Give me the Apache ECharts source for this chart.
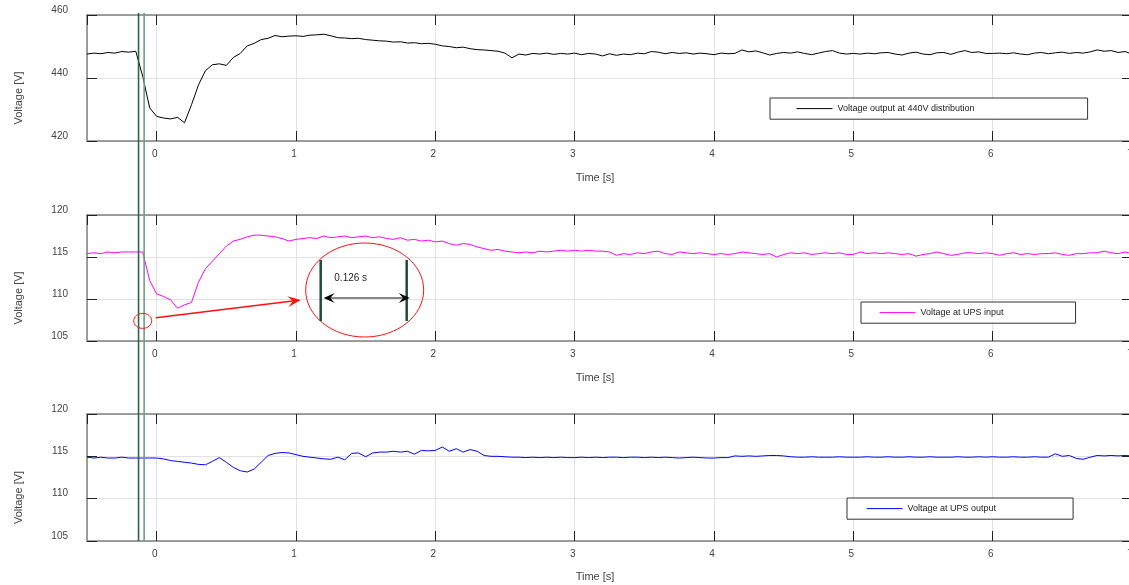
<!DOCTYPE html>
<html><head><meta charset="utf-8">
<script src="https://cdn.jsdelivr.net/npm/echarts@6/dist/echarts.min.js"></script>
<style>html,body{margin:0;padding:0;background:#fff}#c{width:1129px;height:585px}</style>
</head><body><div id="c"></div>
<script>
// ---- data ----
const time = [
 -0.5,-0.45,-0.4,-0.35,-0.3,-0.25,-0.2,-0.15,-0.1,-0.05,
 0,0.05,0.1,0.15,0.2,0.25,0.3,0.35,0.4,0.45,
 0.5,0.55,0.6,0.65,0.7,0.75,0.8,0.85,0.9,0.95,
 1,1.05,1.1,1.15,1.2,1.25,1.3,1.35,1.4,1.45,
 1.5,1.55,1.6,1.65,1.7,1.75,1.8,1.85,1.9,1.95,
 2,2.05,2.1,2.15,2.2,2.25,2.3,2.35,2.4,2.45,
 2.5,2.55,2.6,2.65,2.7,2.75,2.8,2.85,2.9,2.95,
 3,3.05,3.1,3.15,3.2,3.25,3.3,3.35,3.4,3.45,
 3.5,3.55,3.6,3.65,3.7,3.75,3.8,3.85,3.9,3.95,
 4,4.05,4.1,4.15,4.2,4.25,4.3,4.35,4.4,4.45,
 4.5,4.55,4.6,4.65,4.7,4.75,4.8,4.85,4.9,4.95,
 5,5.05,5.1,5.15,5.2,5.25,5.3,5.35,5.4,5.45,
 5.5,5.55,5.6,5.65,5.7,5.75,5.8,5.85,5.9,5.95,
 6,6.05,6.1,6.15,6.2,6.25,6.3,6.35,6.4,6.45,
 6.5,6.55,6.6,6.65,6.7,6.75,6.8,6.85,6.9,6.95,
 7
];
const v440 = [
 447.6,447.9,447.7,448.1,447.9,448.4,448.2,448.5,440.5,430.5,
 427.8,427.3,427.0,427.5,425.8,431.5,437.8,442.3,444.2,444.5,
 444.0,446.5,447.8,450.2,451.0,452.2,452.6,453.5,453.1,453.3,
 453.4,453.2,453.6,453.7,453.9,453.4,452.8,452.7,452.5,452.6,
 452.2,452.0,451.8,451.7,451.4,451.5,451.1,451.2,450.9,451.0,
 450.7,450.2,450.0,449.6,449.8,449.3,449.0,448.9,448.7,448.5,
 447.9,446.4,447.6,447.3,447.8,447.6,447.9,447.5,447.8,447.6,
 447.9,447.4,447.8,447.6,447.0,447.7,447.2,447.6,447.4,447.9,
 447.7,448.4,448.2,447.7,448.1,447.8,448.0,447.6,447.9,447.7,
 447.4,447.9,447.7,447.8,448.9,448.3,448.6,448.0,447.3,447.8,
 448.1,447.9,448.3,447.8,447.4,447.9,448.4,448.7,447.9,447.6,
 447.8,447.6,447.9,447.7,448.0,448.1,447.6,447.3,447.9,448.2,
 447.6,447.4,448.0,448.1,447.5,448.2,448.7,448.1,448.3,447.8,
 447.8,447.9,447.7,448.0,447.6,447.4,447.9,448.1,447.7,448.0,
 448.2,447.8,448.1,447.9,448.3,448.9,448.5,448.7,448.1,448.4,
 447.6
];
const upsIn = [
 115.4,115.5,115.4,115.6,115.5,115.6,115.6,115.6,115.6,112.2,
 110.6,110.3,109.9,108.9,109.3,109.6,112.0,113.6,114.5,115.4,
 116.3,116.9,117.1,117.4,117.6,117.6,117.5,117.4,117.2,116.9,
 117.1,117.2,117.3,117.2,117.5,117.3,117.4,117.5,117.3,117.4,
 117.5,117.3,117.4,117.2,117.1,117.3,117.0,117.1,116.9,117.0,
 116.8,116.9,116.6,116.4,116.6,116.5,116.2,116.0,115.8,115.9,
 115.7,115.6,115.5,115.6,115.5,115.7,115.6,115.7,115.8,115.7,
 115.8,115.7,115.8,115.7,115.7,115.6,115.2,115.4,115.3,115.5,
 115.4,115.6,115.7,115.4,115.3,115.6,115.5,115.4,115.5,115.4,
 115.3,115.4,115.3,115.4,115.6,115.5,115.4,115.3,115.4,115.0,
 115.3,115.5,115.4,115.5,115.3,115.4,115.5,115.4,115.5,115.3,
 115.3,115.6,115.4,115.5,115.4,115.5,115.4,115.3,115.4,115.1,
 115.3,115.4,115.6,115.4,115.2,115.3,115.5,115.5,115.4,115.5,
 115.4,115.2,115.4,115.5,115.3,115.4,115.3,115.4,115.4,115.5,
 115.3,115.2,115.4,115.4,115.5,115.5,115.7,115.5,115.4,115.6,
 115.4
];
const upsOut = [
 114.9,114.8,114.9,114.8,114.8,114.9,114.8,114.8,114.8,114.8,
 114.8,114.7,114.5,114.4,114.3,114.2,114.05,114.0,114.4,114.85,
 114.3,113.7,113.3,113.15,113.5,114.3,115.1,115.35,115.45,115.4,
 115.2,115.0,114.9,114.8,114.7,114.65,114.9,114.6,115.35,115.4,
 114.95,115.4,115.5,115.5,115.6,115.5,115.6,115.25,115.7,115.65,
 115.7,116.1,115.6,115.9,115.5,115.8,115.6,115.1,115.0,115.0,
 114.95,114.9,114.9,114.85,114.9,114.85,114.9,114.85,114.9,114.85,
 114.85,114.9,114.85,114.9,114.85,114.9,114.9,114.85,114.9,114.9,
 114.85,114.9,114.85,114.9,114.85,114.8,114.85,114.9,114.85,114.8,
 114.8,114.85,114.85,115.05,115.0,115.05,115.0,115.05,115.1,115.1,
 115.05,114.95,114.9,114.9,114.95,114.9,114.9,114.9,114.95,114.9,
 114.9,114.9,114.95,114.9,114.9,114.95,114.9,114.9,114.95,114.9,
 114.9,114.95,114.9,114.9,114.9,114.95,114.9,114.9,114.95,114.9,
 114.95,114.9,114.9,114.95,114.9,114.9,114.95,114.9,114.9,115.3,
 115.0,115.1,114.75,114.65,114.9,115.1,115.05,115.1,115.05,115.1,
 115.05
];
const seriesNames = ['Voltage output at 440V distribution', 'Voltage at UPS input', 'Voltage at UPS output'];
const seriesColors = ['#000000', '#ff00ff', '#0000ff'];
const yRanges = [[420, 460, 20], [105, 120, 5], [105, 120, 5]];
const xRange = [-0.5, 7];
const xName = 'Time [s]';
const yName = 'Voltage [V]';
const cursorTimes = [-0.13, -0.09];
const markSmall = [-0.1, 107.4];   // small circled region (panel 2)
const markBig = [1.493, 111.07];   // magnified view (panel 2)
const measuredText = '0.126 s';

// ---- layout ----
const gridTops = [15, 215, 414];
const gridHeights = [126, 126, 127];
const xNameGaps = [31, 31, 30];
const legendPos = [
  {left: 770, top: 98, padding: [5, 113, 5, 26]},
  {left: 861, top: 302, padding: [5, 72, 5, 18]},
  {left: 847, top: 498, padding: [5, 77, 5, 19]}
];
const FONT = 'Liberation Sans, Arial, sans-serif';
const allValues = [v440, upsIn, upsOut];

const grid = [], xAxis = [], yAxis = [], series = [], legend = [];
for (let g = 0; g < 3; g++) {
  grid.push({left: 87, width: 1045, top: gridTops[g], height: gridHeights[g], outerBoundsMode: 'none', containLabel: false});
  const common = {gridIndex: g, type: 'value', min: xRange[0], max: xRange[1], minInterval: 1, maxInterval: 1};
  xAxis.push(Object.assign({}, common, {
    position: 'bottom',
    name: xName, nameLocation: 'middle', nameGap: xNameGaps[g],
    nameTextStyle: {fontFamily: FONT, fontSize: 11, color: '#444', padding: [0, 29, 0, 0]},
    axisLine: {show: true, onZero: false, lineStyle: {color: '#808080', width: 1.5}},
    axisTick: {show: true, inside: true, length: 10, lineStyle: {color: '#222', width: 1}},
    axisLabel: {show: true, showMinLabel: false, hideOverlap: false, margin: 8, fontFamily: FONT, fontSize: 10, color: '#444', padding: [0, 4, 0, 0]},
    splitLine: {show: true, lineStyle: {color: '#e2e2e2', width: 1}}
  }));
  xAxis.push(Object.assign({}, common, {
    position: 'top',
    axisLine: {show: true, onZero: false, lineStyle: {color: '#808080', width: 1.5}},
    axisTick: {show: true, inside: true, length: 10, lineStyle: {color: '#222', width: 1}},
    axisLabel: {show: false},
    splitLine: {show: false}
  }));
  const yr = yRanges[g];
  const ycommon = {gridIndex: g, type: 'value', min: yr[0], max: yr[1], interval: yr[2]};
  yAxis.push(Object.assign({}, ycommon, {
    position: 'left',
    name: yName, nameLocation: 'middle', nameGap: 63, nameRotate: 90,
    nameTextStyle: {fontFamily: FONT, fontSize: 11, color: '#444', padding: [0, 40, 0, 0]},
    axisLine: {show: true, onZero: false, lineStyle: {color: '#808080', width: 1.5}},
    axisTick: {show: true, inside: true, length: 10, lineStyle: {color: '#222', width: 1}},
    axisLabel: {show: true, margin: 19, fontFamily: FONT, fontSize: 10, color: '#444', verticalAlign: 'bottom', lineHeight: 10},
    splitLine: {show: true, lineStyle: {color: '#e2e2e2', width: 1}}
  }));
  yAxis.push(Object.assign({}, ycommon, {
    position: 'right',
    axisLine: {show: true, onZero: false, lineStyle: {color: '#808080', width: 1.5}},
    axisTick: {show: true, inside: true, length: 10, lineStyle: {color: '#222', width: 1}},
    axisLabel: {show: false},
    splitLine: {show: false}
  }));
  series.push({
    name: seriesNames[g], type: 'line', xAxisIndex: 2 * g, yAxisIndex: 2 * g,
    data: time.map((t, k) => [t, allValues[g][k]]),
    symbol: 'none', showSymbol: false, color: seriesColors[g],
    lineStyle: {color: seriesColors[g], width: 1}, z: 3
  });
  legend.push(Object.assign({
    data: [seriesNames[g]], orient: 'horizontal', itemWidth: 36, itemHeight: 14,
    borderColor: '#333', borderWidth: 1, backgroundColor: '#fff', selectedMode: false,
    itemStyle: {opacity: 0},
    lineStyle: {width: 1},
    textStyle: {fontFamily: FONT, fontSize: 9, color: '#222'}
  }, legendPos[g]));
}

const chart = echarts.init(document.getElementById('c'), null, {renderer: 'canvas'});
chart.setOption({animation: false, grid, xAxis, yAxis, series, legend});

// ---- annotations anchored to data coordinates ----
const px = (g, t, v) => chart.convertToPixel({gridIndex: g}, [t, v]);
const graphics = [];
const cursorColors = ['#2d6446', '#6f9c84'];
cursorTimes.forEach((t, i) => {
  const top = px(0, t, yRanges[0][1]);
  const bot = px(2, t, yRanges[2][0]);
  graphics.push({type: 'line', shape: {x1: top[0], y1: top[1] - 2, x2: bot[0], y2: bot[1]},
    style: {stroke: cursorColors[i], lineWidth: 1.6}, z: 10});
});
function arrowHead(tip, from, len, half, color) {
  const dx = tip[0] - from[0], dy = tip[1] - from[1];
  const d = Math.hypot(dx, dy); const ux = dx / d, uy = dy / d;
  const bx = tip[0] - ux * len, by = tip[1] - uy * len;
  const nx = tip[0] - ux * len * 0.6, ny = tip[1] - uy * len * 0.6;
  return {type: 'polygon', shape: {points: [tip, [bx - uy * half, by + ux * half], [nx, ny], [bx + uy * half, by - ux * half]]},
    style: {fill: color}, z: 12};
}
const sc = px(1, markSmall[0], markSmall[1]);
const bc = px(1, markBig[0], markBig[1]);
graphics.push({type: 'ellipse', shape: {cx: sc[0], cy: sc[1], rx: 9, ry: 7.5}, style: {stroke: '#ff1010', fill: 'none', lineWidth: 1}, z: 11});
const aStart = [sc[0] + 13, sc[1] - 3], aEnd = [bc[0] - 64, bc[1] + 10];
graphics.push({type: 'line', shape: {x1: aStart[0], y1: aStart[1], x2: aEnd[0] - 6, y2: aEnd[1] + 0.7}, style: {stroke: '#ff1010', lineWidth: 1.5}, z: 11});
graphics.push(arrowHead(aEnd, aStart, 13, 5.5, '#ff1010'));
graphics.push({type: 'ellipse', shape: {cx: bc[0], cy: bc[1], rx: 59, ry: 47}, style: {stroke: '#ff1010', fill: 'none', lineWidth: 1}, z: 11});
[-44, 42].forEach(dx => graphics.push({type: 'line', shape: {x1: bc[0] + dx, y1: bc[1] - 30, x2: bc[0] + dx, y2: bc[1] + 31},
  style: {stroke: '#1f4d33', lineWidth: 2.5}, z: 12}));
const dL = [bc[0] - 41, bc[1] + 8], dR = [bc[0] + 45, bc[1] + 8];
graphics.push({type: 'line', shape: {x1: dL[0] + 6, y1: dL[1], x2: dR[0] - 6, y2: dR[1]}, style: {stroke: '#111', lineWidth: 1.2}, z: 12});
graphics.push(arrowHead(dL, dR, 11, 5, '#000'));
graphics.push(arrowHead(dR, dL, 11, 5, '#000'));
graphics.push({type: 'text', style: {x: bc[0] - 14, y: bc[1] - 12, text: measuredText, align: 'center', verticalAlign: 'middle',
  font: '10px Liberation Sans, Arial, sans-serif', fill: '#222'}, z: 12});
chart.setOption({graphic: graphics});
</script></body></html>
